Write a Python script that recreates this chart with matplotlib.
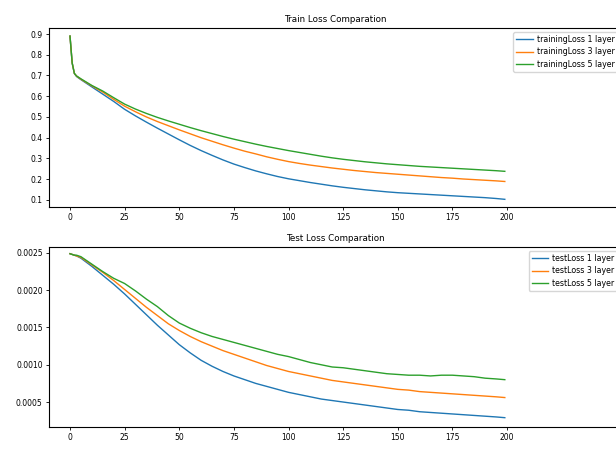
import matplotlib
matplotlib.use("Agg")
import matplotlib.pyplot as plt

epochs = [0, 1, 2, 3, 5, 10, 15, 20, 25, 30, 35, 40, 45, 50, 55, 60, 65, 70, 75, 80,
          85, 90, 95, 100, 105, 110, 115, 120, 125, 130, 135, 140, 145, 150, 155,
          160, 165, 170, 175, 180, 185, 190, 195, 199]

train_1 = [0.89, 0.76, 0.71, 0.695, 0.68, 0.645, 0.61, 0.575, 0.537, 0.505, 0.475,
           0.446, 0.418, 0.39, 0.363, 0.338, 0.315, 0.293, 0.273, 0.256, 0.24, 0.226,
           0.213, 0.202, 0.193, 0.184, 0.176, 0.168, 0.161, 0.155, 0.149, 0.144, 0.139,
           0.135, 0.132, 0.129, 0.126, 0.123, 0.12, 0.117, 0.114, 0.111, 0.107, 0.103]
train_3 = [0.89, 0.76, 0.71, 0.697, 0.682, 0.65, 0.62, 0.585, 0.552, 0.525, 0.50,
           0.478, 0.458, 0.438, 0.419, 0.40, 0.383, 0.366, 0.35, 0.335, 0.322, 0.308,
           0.296, 0.285, 0.276, 0.268, 0.261, 0.254, 0.248, 0.242, 0.237, 0.232,
           0.228, 0.224, 0.22, 0.216, 0.212, 0.208, 0.205, 0.201, 0.198, 0.195,
           0.192, 0.189]
train_5 = [0.89, 0.76, 0.71, 0.698, 0.684, 0.652, 0.625, 0.593, 0.562, 0.538, 0.517,
           0.498, 0.481, 0.465, 0.449, 0.434, 0.42, 0.406, 0.393, 0.381, 0.369,
           0.358, 0.348, 0.338, 0.329, 0.32, 0.311, 0.303, 0.296, 0.29, 0.284,
           0.279, 0.274, 0.27, 0.266, 0.262, 0.259, 0.256, 0.253, 0.25, 0.247,
           0.244, 0.241, 0.238]

test_1 = [0.00249, 0.00248, 0.00247, 0.00246, 0.00243, 0.00232, 0.00220, 0.00208,
          0.00195, 0.00181, 0.00167, 0.00153, 0.00140, 0.00127, 0.00116, 0.00106,
          0.00098, 0.00091, 0.00085, 0.00080, 0.00075, 0.00071, 0.00067, 0.00063,
          0.00060, 0.00057, 0.00054, 0.00052, 0.00050, 0.00048, 0.00046, 0.00044,
          0.00042, 0.00040, 0.00039, 0.00037, 0.00036, 0.00035, 0.00034, 0.00033,
          0.00032, 0.00031, 0.00030, 0.00029]
test_3 = [0.00249, 0.00248, 0.00247, 0.00246, 0.00244, 0.00234, 0.00224, 0.00213,
          0.00201, 0.00189, 0.00177, 0.00166, 0.00155, 0.00146, 0.00138, 0.00131,
          0.00125, 0.00119, 0.00114, 0.00109, 0.00104, 0.00099, 0.00095, 0.00091,
          0.00088, 0.00085, 0.00082, 0.00079, 0.00077, 0.00075, 0.00073, 0.00071,
          0.00069, 0.00067, 0.00066, 0.00064, 0.00063, 0.00062, 0.00061, 0.00060,
          0.00059, 0.00058, 0.00057, 0.00056]
test_5 = [0.00249, 0.00248, 0.00247, 0.00247, 0.00245, 0.00235, 0.00225, 0.00216,
          0.00209, 0.00199, 0.00188, 0.00178, 0.00166, 0.00156, 0.00149, 0.00143,
          0.00138, 0.00134, 0.00130, 0.00126, 0.00122, 0.00118, 0.00114, 0.00111,
          0.00107, 0.00103, 0.00100, 0.00097, 0.00096, 0.00094, 0.00092, 0.00090,
          0.00088, 0.00087, 0.00086, 0.00086, 0.00085, 0.00086, 0.00086, 0.00085,
          0.00084, 0.00082, 0.00081, 0.00080]

train_labels = ["trainingLoss 1 layer", "trainingLoss 3 layer", "trainingLoss 5 layer"]
test_labels = ["testLoss 1 layer", "testLoss 3 layer", "testLoss 5 layer"]
xticks = [0, 25, 50, 75, 100, 125, 150, 175, 200]

W, H = 616, 457
fig = plt.figure(figsize=(W / 100, H / 100), dpi=100)

RIGHT = 621

def px_axes(left, top, right, bottom):
    return fig.add_axes([left / W, 1 - bottom / H, (right - left) / W, (bottom - top) / H])

ax1 = px_axes(49, 28, RIGHT, 207)
ax2 = px_axes(49, 247, RIGHT, 427)

# x-scale: 0 at 70px, 200 at 507px
ppu = (507 - 70) / 200
xlim = (-(70 - 49) / ppu, (RIGHT - 70) / ppu)

for ax, series, labels, title in [
    (ax1, [train_1, train_3, train_5], train_labels, "Train Loss Comparation"),
    (ax2, [test_1, test_3, test_5], test_labels, "Test Loss Comparation"),
]:
    for s, lab in zip(series, labels):
        ax.plot(epochs, s, lw=1.0, label=lab)
    ax.set_xlim(*xlim)
    ax.set_xticks(xticks)
    ax.set_title(title, fontsize=6.3, pad=4)
    ax.tick_params(labelsize=5.5, length=2.5, width=0.6, pad=2)
    for sp in ax.spines.values():
        sp.set_linewidth(0.8)
    ax.legend(loc="upper right", fontsize=5.7, handlelength=2.1, handletextpad=0.5,
              labelspacing=0.45, borderaxespad=0.5, borderpad=0.35, framealpha=0.8)

ax1.set_ylim(0.066, 0.929)
ax1.set_yticks([0.1, 0.2, 0.3, 0.4, 0.5, 0.6, 0.7, 0.8, 0.9])
ax1.set_yticklabels(["0.1", "0.2", "0.3", "0.4", "0.5", "0.6", "0.7", "0.8", "0.9"])

ax2.set_ylim(0.000165, 0.00258)
ax2.set_yticks([0.0005, 0.0010, 0.0015, 0.0020, 0.0025])
ax2.set_yticklabels(["0.0005", "0.0010", "0.0015", "0.0020", "0.0025"])

fig.savefig("out.png", dpi=100)
